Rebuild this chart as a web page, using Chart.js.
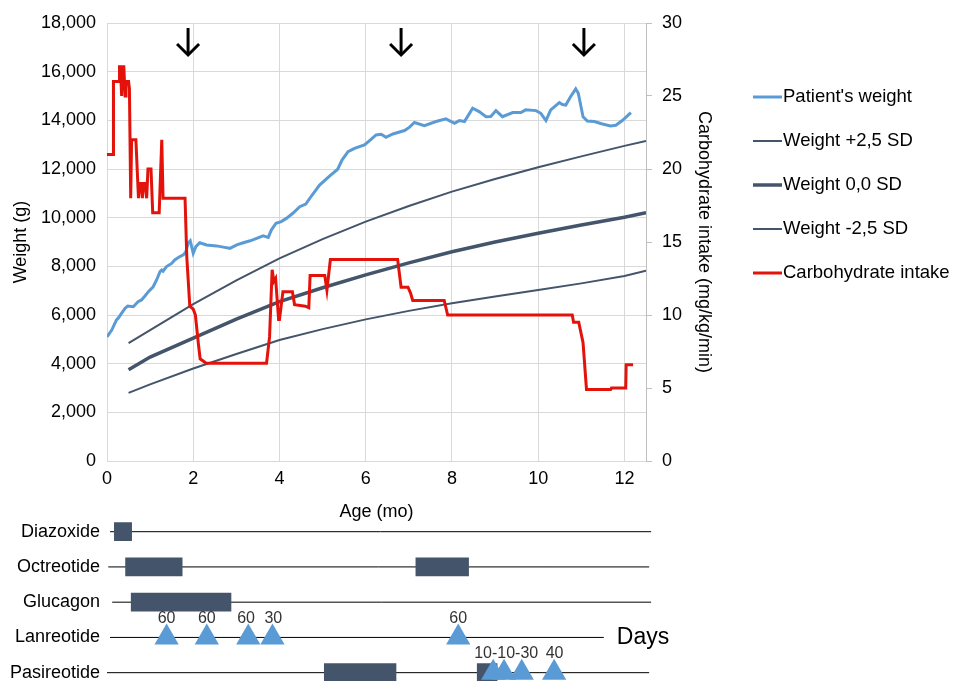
<!DOCTYPE html>
<html><head><meta charset="utf-8">
<script src="https://cdn.jsdelivr.net/npm/chart.js@4.4.1/dist/chart.umd.min.js"></script>
<style>
html,body{margin:0;padding:0;background:#fff;overflow:hidden;width:956px;height:681px;}
#main{position:absolute;left:0;top:0;}
#tl{position:absolute;left:0;top:500px;}
</style></head><body>
<canvas id="main" width="956" height="530"></canvas>
<canvas id="tl" width="956" height="200"></canvas>
<script>
// ---------- data ----------
const weightAges = [0,0.11,0.22,0.26,0.42,0.48,0.61,0.72,0.80,0.88,0.96,1.07,1.15,1.23,1.27,1.30,1.38,1.50,1.57,1.69,1.77,1.83,1.88,1.93,2.00,2.06,2.15,2.31,2.54,2.73,2.85,3.01,3.16,3.32,3.47,3.62,3.74,3.81,3.92,4.04,4.16,4.31,4.47,4.61,4.74,4.93,5.16,5.35,5.45,5.59,5.74,5.97,6.09,6.24,6.36,6.47,6.63,6.90,7.01,7.13,7.36,7.63,7.86,8.06,8.17,8.29,8.48,8.63,8.79,8.90,9.02,9.17,9.41,9.60,9.71,9.95,10.06,10.18,10.29,10.49,10.56,10.64,10.75,10.87,10.93,11.04,11.14,11.30,11.49,11.68,11.80,11.95,12.15];
const weightValues = [5100,5380,5800,5870,6280,6370,6340,6550,6620,6780,6960,7160,7440,7780,7850,7800,7990,8120,8260,8400,8470,8600,8950,9050,8540,8810,8970,8880,8840,8780,8740,8880,8970,9050,9150,9250,9190,9490,9770,9840,9970,10180,10450,10560,10890,11340,11710,11990,12370,12710,12850,12990,13170,13400,13430,13300,13440,13580,13710,13910,13780,13950,14060,13880,13990,13950,14500,14360,14150,14160,14400,14150,14320,14320,14430,14400,14290,13990,14430,14730,14650,14630,14970,15290,15110,14150,13970,13950,13850,13770,13800,13990,14320];

const sdAges   = [0.5,1,2,3,4,5,6,7,8,9,10,11,12,12.5];
const sdPlus   = [4840,5380,6450,7420,8330,9120,9840,10480,11070,11590,12070,12520,12950,13150];
const sdZero   = [3750,4270,5050,5830,6550,7120,7650,8140,8600,9000,9360,9700,10020,10200];
const sdMinus  = [2800,3150,3800,4400,4970,5420,5820,6170,6480,6760,7030,7300,7600,7820];

const carbAges   = [0,0.15,0.15,0.28,0.29,0.31,0.34,0.36,0.39,0.42,0.44,0.50,0.52,0.55,0.57,0.67,0.73,0.76,0.80,0.82,0.84,0.88,0.92,0.95,1.02,1.06,1.21,1.27,1.30,1.81,1.85,1.92,2.00,2.05,2.12,2.16,2.30,3.70,3.77,3.83,3.87,3.91,3.98,4.00,4.08,4.30,4.35,4.60,4.68,4.71,5.05,5.10,5.18,6.74,6.82,6.98,7.04,7.09,7.82,7.90,10.79,10.82,10.94,11.04,11.12,11.68,11.70,12.03,12.04,12.20];
const carbValues = [21,21,26,26,27,27,25,27,27,25,26,26,25.5,18,22,22,18,19,19,18,19,19,18,20,20,17,17,22,18,18,14,10.6,10.4,10.0,8.0,7.0,6.7,6.7,8.5,13.1,12.3,12.5,9.7,9.7,11.6,11.6,10.7,10.6,10.5,12.7,12.7,11.7,13.8,13.8,11.9,11.9,11.5,11.0,11.0,10.0,10.0,9.5,9.5,8.1,4.9,4.9,5.0,5.0,6.6,6.6];

const seriesLabels = ["Patient's weight","Weight +2,5 SD","Weight 0,0 SD","Weight -2,5 SD","Carbohydrate intake"];
const arrowAges = [1.88, 6.82, 11.06];

const xTicksStep = 2, weightMax = 18000, weightStep = 2000, carbMax = 30, carbStep = 5;

const drugs = ['Diazoxide','Octreotide','Glucagon','Lanreotide','Pasireotide'];
const barRows   = [0,1,1,2,4,4];
const barStarts = [0.17,0.43,7.15,0.56,5.03,8.57];
const barEnds   = [0.57,1.74,8.37,2.87,6.69,9.03];
const triRows = [3,3,3,3,3,4,4,4,4];
const triAges = [1.38,2.31,3.27,3.83,8.13,8.94,9.19,9.60,10.35];
const noteRows  = [3,3,3,3,3,4,4];
const noteAges  = [1.38,2.31,3.22,3.85,8.13,9.24,10.36];
const noteTexts = ['60','60','60','30','60','10-10-30','40'];
const rowLineStart = [0.07,0.03,0.12,0.07,0.0];
const rowLineEnd   = [12.6,12.55,12.6,11.5,12.55];
const daysText = 'Days';

// ---------- styling ----------
const FONT = "'Liberation Sans', Arial, sans-serif";
Chart.defaults.font.family = FONT;
Chart.defaults.font.size = 18;
Chart.defaults.color = '#000';

const BLUE = '#5b9bd5', SLATE = '#44546a', RED = '#e3120b', GRID = '#d9d9d9';
const pts = (xs, ys) => xs.map((x, i) => ({x, y: ys[i]}));

const arrowPlugin = {
  id: 'arrows',
  afterDatasetsDraw(chart) {
    const {ctx, chartArea} = chart;
    const xs = chart.scales.x;
    ctx.save();
    ctx.strokeStyle = '#000';
    ctx.lineWidth = 3;
    ctx.lineCap = 'butt';
    arrowAges.forEach(a => {
      const px = xs.getPixelForValue(a);
      const top = chartArea.top + 5, bot = chartArea.top + 32;
      ctx.beginPath();
      ctx.moveTo(px, top); ctx.lineTo(px, bot - 1);
      ctx.stroke();
      ctx.beginPath();
      ctx.moveTo(px - 11, bot - 11); ctx.lineTo(px, bot); ctx.lineTo(px + 11, bot - 11);
      ctx.stroke();
    });
    ctx.restore();
  }
};

const legendPlugin = {
  id: 'sideLegend',
  afterDraw(chart) {
    const {ctx} = chart;
    ctx.save();
    ctx.font = '18.5px ' + FONT;
    ctx.textBaseline = 'middle';
    ctx.textAlign = 'left';
    chart.data.datasets.forEach((ds, i) => {
      const y = 97 + i * 44;
      ctx.strokeStyle = ds.borderColor;
      ctx.lineWidth = ds.borderWidth;
      ctx.beginPath(); ctx.moveTo(753, y); ctx.lineTo(782, y); ctx.stroke();
      ctx.fillStyle = '#000';
      ctx.fillText(ds.label, 783, y);
    });
    ctx.restore();
  }
};

new Chart(document.getElementById('main'), {
  type: 'line',
  data: {
    datasets: [
      {label: seriesLabels[0], data: pts(weightAges, weightValues), yAxisID: 'y', borderColor: BLUE, borderWidth: 3, order: 1},
      {label: seriesLabels[1], data: pts(sdAges, sdPlus), yAxisID: 'y', borderColor: SLATE, borderWidth: 2, order: 2},
      {label: seriesLabels[2], data: pts(sdAges, sdZero), yAxisID: 'y', borderColor: SLATE, borderWidth: 3.5, order: 2},
      {label: seriesLabels[3], data: pts(sdAges, sdMinus), yAxisID: 'y', borderColor: SLATE, borderWidth: 2, order: 2},
      {label: seriesLabels[4], data: pts(carbAges, carbValues), yAxisID: 'y1', borderColor: RED, borderWidth: 3, order: 0}
    ]
  },
  options: {
    responsive: false,
    animation: false,
    elements: {point: {radius: 0}, line: {tension: 0, fill: false}},
    layout: {padding: {top: 23, left: 0, right: 237, bottom: 0}},
    plugins: {legend: {display: false}, tooltip: {enabled: false}},
    scales: {
      x: {
        type: 'linear', min: 0, max: 12.5, offset: false,
        ticks: {stepSize: xTicksStep, includeBounds: false, padding: 7},
        grid: {color: GRID, drawTicks: false},
        border: {color: GRID},
        title: {display: true, text: 'Age (mo)', padding: {top: 4, bottom: 7}},
        afterFit(s) { s.height = 69; }
      },
      y: {
        type: 'linear', position: 'left', min: 0, max: weightMax,
        ticks: {stepSize: weightStep, includeBounds: false, padding: 11},
        grid: {color: GRID, drawTicks: false},
        border: {color: GRID},
        title: {display: true, text: 'Weight (g)', padding: {top: 10, bottom: 4}},
        afterFit(s) { s.width = 107; }
      },
      y1: {
        type: 'linear', position: 'right', min: 0, max: carbMax,
        ticks: {stepSize: carbStep, includeBounds: false, padding: 10},
        grid: {drawOnChartArea: false, color: '#bfbfbf', tickLength: 6},
        border: {color: '#bfbfbf'},
        title: {display: true, text: 'Carbohydrate intake (mg/kg/min)', padding: {top: 4, bottom: 4}},
        afterFit(s) { s.width = 73; }
      }
    }
  },
  plugins: [arrowPlugin, legendPlugin]
});

// ---------- treatment timeline ----------
const notesPlugin = {
  id: 'notes',
  afterDatasetsDraw(chart) {
    const {ctx} = chart;
    const xs = chart.scales.x, ys = chart.scales.y;
    ctx.save();
    ctx.fillStyle = '#333';
    ctx.font = '16px ' + FONT;
    ctx.textAlign = 'center';
    ctx.textBaseline = 'middle';
    noteTexts.forEach((t, i) => {
      ctx.fillText(t, xs.getPixelForValue(noteAges[i]), ys.getPixelForValue(noteRows[i]) - 19);
    });
    ctx.fillStyle = '#000';
    ctx.font = '23px ' + FONT;
    ctx.textAlign = 'left';
    ctx.fillText(daysText, xs.getPixelForValue(rowLineEnd[3]) + 13, ys.getPixelForValue(3));
    ctx.restore();
  }
};

const tlDatasets = [
  {type: 'scatter', data: pts(triAges, triRows), pointStyle: 'triangle', pointRadius: 14,
   backgroundColor: BLUE, borderColor: BLUE, borderWidth: 0, order: 0},
  {type: 'bar', indexAxis: 'y', data: barRows.map((r, i) => ({x: [barStarts[i], barEnds[i]], y: r})),
   backgroundColor: SLATE, barThickness: 18, grouped: false, order: 1}
];
drugs.forEach((d, r) => {
  tlDatasets.push({type: 'line', data: [{x: rowLineStart[r], y: r}, {x: rowLineEnd[r], y: r}],
    borderColor: '#000', borderWidth: 1, pointRadius: 0, order: 2});
});

new Chart(document.getElementById('tl'), {
  type: 'scatter',
  data: {datasets: tlDatasets},
  options: {
    responsive: false,
    animation: false,
    layout: {autoPadding: false, padding: {left: 0, right: 956 - (107 + 12.6 * 43.2), top: 0, bottom: 0}},
    plugins: {legend: {display: false}, tooltip: {enabled: false}},
    scales: {
      x: {type: 'linear', min: 0, max: 12.6, offset: false, display: false},
      y: {
        type: 'linear', min: -0.899, max: 4.775, reverse: true, offset: false,
        ticks: {stepSize: 1, includeBounds: false, padding: 7, callback: v => drugs[v] ?? ''},
        grid: {display: false, drawTicks: false},
        border: {display: false},
        afterFit(s) { s.width = 107; s.paddingTop = 0; s.paddingBottom = 0; }
      }
    }
  },
  plugins: [notesPlugin]
});
</script>
</body></html>
